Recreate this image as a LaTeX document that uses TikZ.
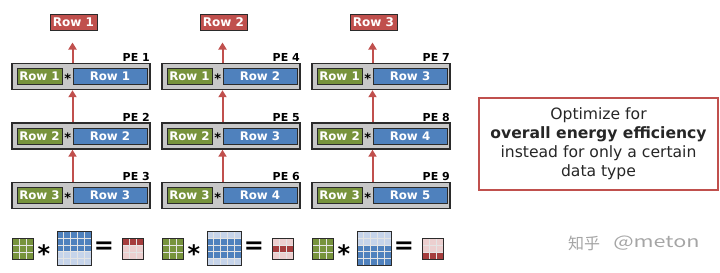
\documentclass[tikz,border=0pt]{standalone}
\usepackage{fontspec}
\setmainfont{DejaVu Sans}
\newfontfamily\cjk{Noto Sans CJK SC}
\usetikzlibrary{arrows.meta,calc}
\definecolor{boxline}{HTML}{2B2B2B}
\definecolor{pegray}{HTML}{C8C8C8}
\definecolor{greenc}{HTML}{77933C}
\definecolor{bluec}{HTML}{4F81BD}
\definecolor{redc}{HTML}{C0504D}
\definecolor{bluelt}{HTML}{C6D4EA}
\definecolor{redlt}{HTML}{ECCFCF}
\definecolor{reddk}{HTML}{A53D3D}
\definecolor{gridgap}{HTML}{E4E4E4}
\definecolor{wmgray}{HTML}{A5A5A5}
% #1 x, #2 y, #3 n, #4 cell, #5 dark, #6 light, #7 first dark row, #8 last dark row
\newcommand\drawgrid[8]{%
  \fill[#6] (#1,#2) rectangle ++({#3*#4},{#3*#4});
  \fill[#5] (#1,{#2+(#7-1)*#4}) rectangle ++({#3*#4},{(#8-#7+1)*#4});
  \foreach \k in {1,...,\numexpr#3-1\relax}{%
    \draw[gridgap,line width=1pt] ({#1+\k*#4},#2) -- ++(0,{#3*#4});
    \draw[gridgap,line width=1pt] (#1,{#2+\k*#4}) -- ++({#3*#4},0);
  }
  \draw[boxline,line width=0.9pt] (#1,#2) rectangle ++({#3*#4},{#3*#4});
}
\begin{document}
\begin{tikzpicture}[x=1pt,y=-1pt,
  pebox/.style={draw=boxline,fill=pegray,line width=1.4pt,minimum width=138pt,minimum height=26pt,inner sep=0pt},
  gbox/.style={draw=boxline,fill=greenc,line width=1pt,minimum width=45pt,minimum height=16pt,inner sep=0pt,text=white,font=\bfseries\fontsize{11.8}{11.8}\selectfont},
  bbox/.style={draw=boxline,fill=bluec,line width=1pt,minimum width=74pt,minimum height=16pt,inner sep=0pt,text=white,font=\bfseries\fontsize{11.8}{11.8}\selectfont},
  outbox/.style={draw=boxline,fill=redc,line width=1pt,minimum width=47pt,minimum height=16pt,inner sep=0pt,text=white,font=\bfseries\fontsize{12}{12}\selectfont},
  pelabel/.style={anchor=south east,inner sep=0pt,font=\bfseries\fontsize{11}{11}\selectfont},
  startxt/.style={inner sep=0pt,font=\bfseries\fontsize{13}{13}\selectfont},
  flow/.style={draw=redc,line width=2pt,-{Triangle[length=7pt,width=8pt]}},
  bigop/.style={inner sep=0pt,font=\bfseries\fontsize{24}{24}\selectfont},
  note/.style={draw=redc,line width=1.8pt,minimum width=239pt,minimum height=92pt,align=center,text=black!85,font=\fontsize{15.6}{19}\selectfont}
]
\useasboundingbox (0,0) rectangle (720,273);
\foreach \c in {0,1,2}{
  \pgfmathsetmacro{\xz}{12+150*\c}
  \foreach \r/\yc in {0/76.5,1/136,2/195.5}{
    \pgfmathtruncatemacro{\pe}{3*\c+\r+1}
    \pgfmathtruncatemacro{\gr}{\r+1}
    \pgfmathtruncatemacro{\br}{\c+\r+1}
    \node[pebox] (pe-\c-\r) at (\xz+69,\yc) {};
    \node[gbox] (g-\c-\r) at (\xz+27.5,\yc) {Row \gr};
    \node[bbox] (b-\c-\r) at (\xz+98,\yc) {Row \br};
    \node[startxt] (s-\c-\r) at (\xz+55.8,\yc+2) {*};
    \node[pelabel] (l-\c-\r) at (\xz+138,\yc-14.5) {PE \pe};
  }
  \pgfmathtruncatemacro{\orow}{\c+1}
  \node[outbox] (out-\c) at (\xz+61.5,22) {Row \orow};
  \draw[flow] (b-\c-2.west |- pe-\c-2.north) -- (b-\c-1.west |- pe-\c-1.south);
  \draw[flow] (b-\c-1.west |- pe-\c-1.north) -- (b-\c-0.west |- pe-\c-0.south);
  \draw[flow,shorten >=12pt] (b-\c-0.west |- pe-\c-0.north) -- (b-\c-0.west |- out-\c.south);
}
% matrix icons
\foreach \g/\ba/\bb/\ra in {0/1/3/1,1/2/4/2,2/3/5/3}{
  \pgfmathsetmacro{\ox}{150*\g}
  \drawgrid{\ox+12}{238}{3}{7}{greenc}{greenc}{1}{3}
  \drawgrid{\ox+57}{231.5}{5}{6.8}{bluec}{bluelt}{\ba}{\bb}
  \drawgrid{\ox+122}{238}{3}{7}{reddk}{redlt}{\ra}{\ra}
  \node[bigop] (op-\g) at (\ox+44,254) {*};
  \node[bigop] (eq-\g) at (\ox+104,248) {=};
}
\node[note] (note) at (598.5,144) {Optimize for\\\textbf{overall energy efficiency}\\instead for only a certain\\data type};
\node[inner sep=0pt,text=wmgray,font=\cjk\fontsize{16}{16}\selectfont] (wm1) at (584,243) {知乎};
\node[inner sep=0pt,text=wmgray,font=\cjk\fontsize{16}{16}\selectfont,xscale=1.35,anchor=west] (wm2) at (613,243) {@meton};
\end{tikzpicture}
\end{document}
